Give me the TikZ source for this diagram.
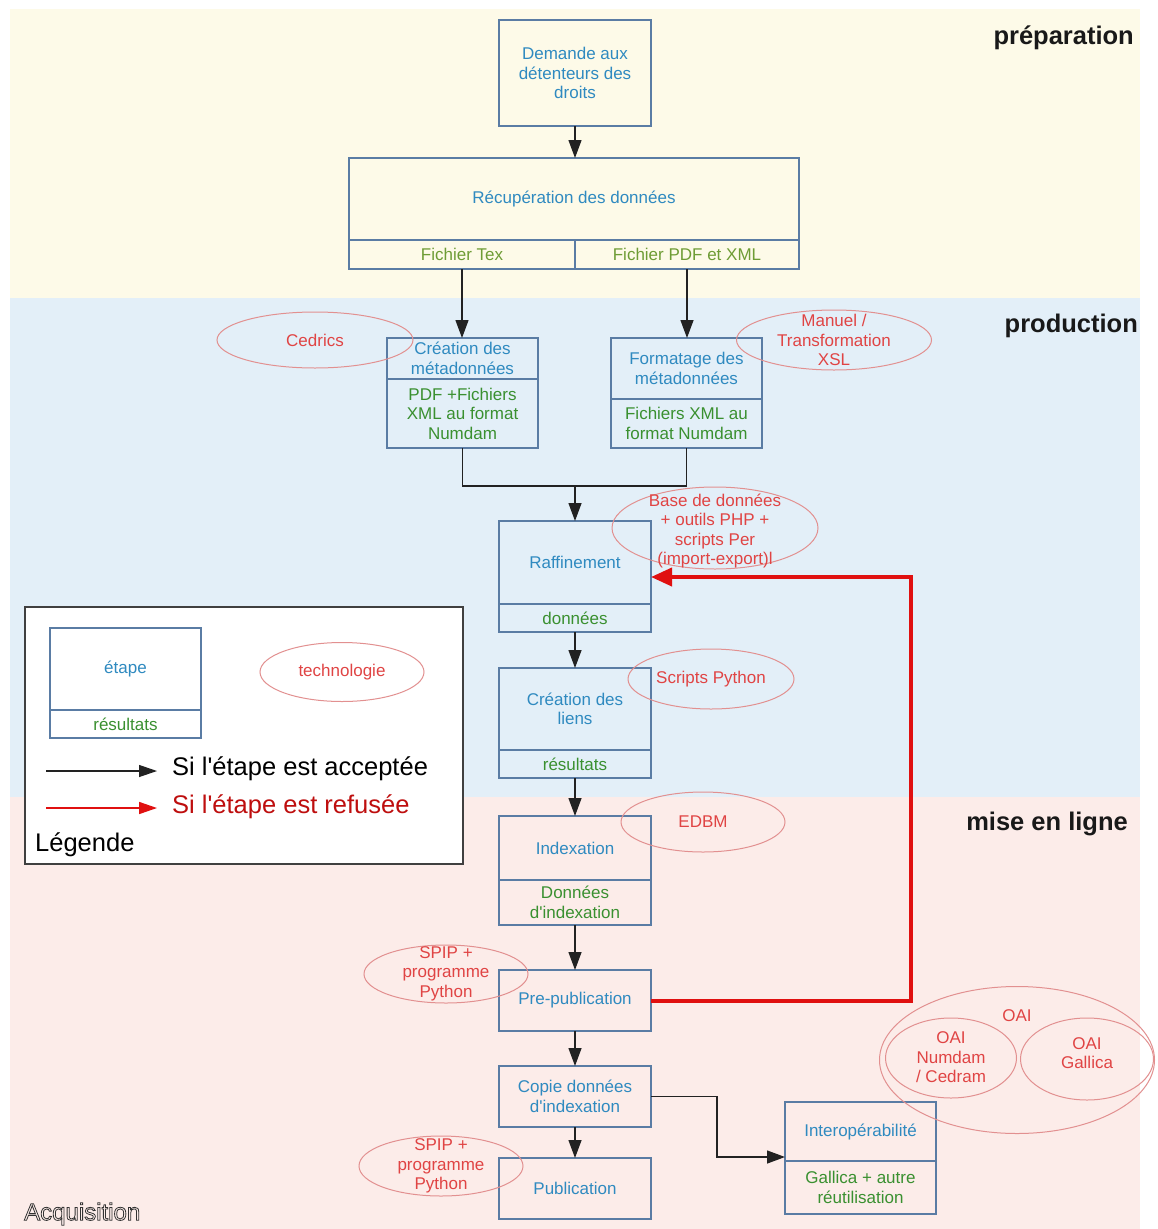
\documentclass[tikz,border=0pt]{standalone}
\usepackage{fontspec}
\setmainfont{Liberation Sans}
\newfontfamily\pf{Liberation Sans}
\usetikzlibrary{arrows.meta,shapes.geometric}
\definecolor{bandA}{HTML}{FDFAE8}
\definecolor{bandB}{HTML}{E3EFF8}
\definecolor{bandC}{HTML}{FCECE9}
\definecolor{boxline}{HTML}{5A7CA4}
\definecolor{ttl}{HTML}{2F8AC0}
\definecolor{res}{HTML}{3A9030}
\definecolor{res2}{HTML}{6E9C35}
\definecolor{tech}{HTML}{E04444}
\definecolor{ell}{HTML}{E29090}
\definecolor{lncol}{HTML}{222222}
\definecolor{refred}{HTML}{E01010}
\begin{document}
\begin{tikzpicture}[x=1pt,y=-1pt,
 bx/.style={draw=boxline, line width=1.2pt, inner sep=0pt, outer sep=0pt, align=center, font=\pf\fontsize{17}{19.5}\selectfont},
 st/.style={bx, text=ttl},
 rs/.style={bx, text=res},
 rs2/.style={bx, text=res2},
 tel/.style={draw=ell, line width=1pt, ellipse, inner sep=0pt, outer sep=0pt},
 tt/.style={text=tech, align=center, inner sep=0pt, font=\pf\fontsize{17}{19.5}\selectfont},
 ln/.style={draw=lncol, line width=1.3pt},
 arr/.style={ln, -{Triangle[length=18pt,width=13pt]}},
 refarr/.style={draw=refred, line width=4pt, -{Triangle[length=21pt,width=18pt]}},
 sect/.style={font=\pf\fontsize{25.5}{30}\selectfont\bfseries, anchor=east, text=black!90, inner sep=0pt},
 legtxt/.style={font=\pf\fontsize{25.5}{30}\selectfont, anchor=west, inner sep=0pt},
]
\useasboundingbox (0,0) rectangle (1157,1229);
\fill[white] (0,0) rectangle (1157,1229);
\fill[bandA] (10,9) rectangle (1140,298);
\fill[bandB] (10,298) rectangle (1140,797);
\fill[bandC] (10,797) rectangle (1140,1229);

% section labels
\node[sect] (sprep) at (1134,38) {préparation};
\node[sect] (sprod) at (1138,326) {production};
\node[sect] (sline) at (1128,824) {mise en ligne};

% boxes
\node[st, minimum width=152, minimum height=106] (dem) at (575,73) {Demande aux\\détenteurs des\\droits};
\node[st, minimum width=450, minimum height=82] (rec) at (574,199) {Récupération des données};
\node[rs2, minimum width=226, minimum height=29] (rtex) at (462,254.5) {Fichier Tex};
\node[rs2, minimum width=224, minimum height=29] (rpdf) at (687,254.5) {Fichier PDF et XML};

\node[st, minimum width=151, minimum height=41] (cre) at (462.5,358.5) {Création des\\métadonnées};
\node[rs, minimum width=151, minimum height=69] (creR) at (462.5,413.5) {PDF +Fichiers\\XML au format\\Numdam};
\node[st, minimum width=151, minimum height=61] (fmt) at (686.5,368.5) {Formatage des\\métadonnées};
\node[rs, minimum width=151, minimum height=49] (fmtR) at (686.5,423.5) {Fichiers XML au\\format Numdam};

\node[st, minimum width=152, minimum height=83] (raf) at (575,562.5) {Raffinement};
\node[rs, minimum width=152, minimum height=28] (rafR) at (575,618) {données};
\node[st, minimum width=152, minimum height=82] (lie) at (575,709) {Création des\\liens};
\node[rs, minimum width=152, minimum height=28] (lieR) at (575,764) {résultats};
\node[st, minimum width=152, minimum height=64] (idx) at (575,848) {Indexation};
\node[rs, minimum width=152, minimum height=45] (idxR) at (575,902.5) {Données\\d'indexation};
\node[st, minimum width=152, minimum height=61] (pre) at (575,1000.5) {Pre-publication};
\node[st, minimum width=152, minimum height=61] (cop) at (575,1096.5) {Copie données\\d'indexation};
\node[st, minimum width=152, minimum height=61] (pub) at (575,1188.5) {Publication};
\node[st, minimum width=151, minimum height=59] (itp) at (860.5,1131.5) {Interopérabilité};
\node[rs, minimum width=151, minimum height=53] (itpR) at (860.5,1187.5) {Gallica + autre\\réutilisation};

% connectors
\coordinate (j) at (575,486);
\coordinate (rc) at (911,1000.5);
\coordinate (rin) at (651,577);
\coordinate (cb) at (717,1096.5);
\coordinate (iin) at (785,1157);
\draw[arr] (dem.south) -- (dem.south |- rec.north);
\draw[arr] (rtex.south) -- (rtex.south |- cre.north);
\draw[arr] (rpdf.south) -- (rpdf.south |- fmt.north);
\draw[ln] (creR.south) |- (j) -| (fmtR.south);
\draw[arr] (j) -- (raf.north);
\draw[arr] (rafR.south) -- (lie.north);
\draw[arr] (lieR.south) -- (idx.north);
\draw[arr] (idxR.south) -- (pre.north);
\draw[arr] (pre.south) -- (cop.north);
\draw[arr] (cop.south) -- (pub.north);
\draw[arr] (cop.east) -- (cb) |- (iin);
\draw[refarr] (pre.east) -- (rc) |- (rin);

% technology ellipses
\node[tel, minimum width=196, minimum height=56] (eced) at (315,340) {};
\node[tt] at (eced.center) {Cedrics};
\node[tel, minimum width=195, minimum height=60] (eman) at (834,340) {};
\node[tt] at (eman.center) {Manuel /\\Transformation\\XSL};
\node[tel, minimum width=206, minimum height=82] (ebase) at (715,528) {};
\node[tt] at (715,531) {Base de données\\+ outils PHP +\\scripts Per\\(import-export)l};
\node[tel, minimum width=166, minimum height=60] (epy) at (711,679) {};
\node[tt] at (epy.center) {Scripts Python};
\node[tel, minimum width=164, minimum height=60] (eedbm) at (703,822) {};
\node[tt] at (eedbm.center) {EDBM};
\node[tel, minimum width=164, minimum height=58] (esp1) at (446,974) {};
\node[tt] at (446,973.5) {SPIP +\\programme\\Python};
\node[tel, minimum width=164, minimum height=60] (esp2) at (441,1166) {};
\node[tt] at (441,1166) {SPIP +\\programme\\Python};
\node[tel, minimum width=275, minimum height=147] (eoai) at (1017,1060) {};
\node[tt] at (1017,1016) {OAI};
\node[tel, minimum width=131, minimum height=80] (enum) at (951,1058) {};
\node[tt] at (951,1057.5) {OAI\\Numdam\\/ Cedram};
\node[tel, minimum width=133, minimum height=82] (egal) at (1087,1059) {};
\node[tt] at (1087,1053) {OAI\\Gallica};

% legend
\node[draw=black!75, line width=1.2pt, fill=white, minimum width=438, minimum height=257, inner sep=0pt] (leg) at (244,735.5) {};
\node[st, minimum width=151, minimum height=82] (lst) at (125.5,669) {étape};
\node[rs, minimum width=151, minimum height=28] (lrs) at (125.5,724) {résultats};
\node[tel, minimum width=164, minimum height=59] (etec) at (342,672) {};
\node[tt] at (etec.center) {technologie};
\coordinate (la1) at (46,771);
\coordinate (la2) at (157,771);
\coordinate (lr1) at (46,808);
\coordinate (lr2) at (157,808);
\draw[ln, line width=1.2pt, -{Triangle[length=18pt,width=12pt]}] (la1) -- (la2);
\draw[draw=refred, line width=1.6pt, -{Triangle[length=18pt,width=12pt]}] (lr1) -- (lr2);
\node[legtxt] (lacc) at (172,769) {Si l'étape est acceptée};
\node[legtxt, text=refred!85!black] (lref) at (172,807) {Si l'étape est refusée};
\node[legtxt] (ltit) at (35,845) {Légende};

% Acquisition (outlined)
\node[anchor=west, inner sep=0pt, font=\pf\fontsize{24}{28}\selectfont, text=black!80] (acq) at (24,1214) {\special{pdf:literal direct 1 Tr 0.8 w}Acquisition\special{pdf:literal direct 0 Tr}};
\end{tikzpicture}
\end{document}
